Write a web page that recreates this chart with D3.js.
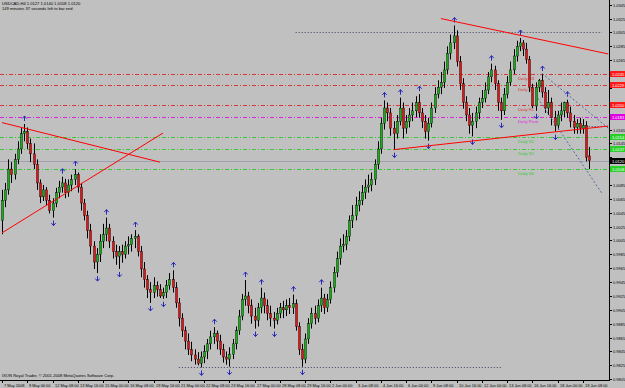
<!DOCTYPE html>
<html><head><meta charset="utf-8">
<script src="https://cdn.jsdelivr.net/npm/d3@7/dist/d3.min.js"></script>
<style>body{margin:0;background:#c0c0c0}svg{display:block}</style></head>
<body><svg id="c" width="625" height="388"></svg>
<script>
// USDCAD H4 candles, bar 0 = 7 May 2008 16:00
const opens=[1.0034,1.0063,1.0078,1.0108,1.0100,1.0122,1.0137,1.0159,1.0162,1.0145,
1.0130,1.0115,1.0088,1.0068,1.0078,1.0063,1.0048,1.0059,1.0074,1.0082,
1.0088,1.0074,1.0085,1.0093,1.0100,1.0082,1.0059,1.0041,1.0019,0.9997,
0.9974,0.9985,1.0004,1.0014,1.0023,1.0004,0.9989,0.9982,0.9989,0.9985,
0.9997,0.9999,1.0008,1.0011,0.9989,0.9964,0.9949,0.9934,0.9930,0.9940,
0.9934,0.9925,0.9930,0.9940,0.9949,0.9937,0.9915,0.9893,0.9875,0.9860,
0.9848,0.9840,0.9834,0.9828,0.9837,0.9845,0.9856,0.9866,0.9871,0.9860,
0.9848,0.9837,0.9834,0.9841,0.9856,0.9875,0.9896,0.9920,0.9925,0.9911,
0.9896,0.9890,0.9908,0.9922,0.9911,0.9900,0.9893,0.9890,0.9900,0.9908,
0.9905,0.9911,0.9908,0.9914,0.9881,0.9848,0.9834,0.9863,0.9885,0.9900,
0.9893,0.9911,0.9922,0.9908,0.9920,0.9937,0.9959,0.9979,0.9997,0.9999,
1.0011,1.0034,1.0041,1.0056,1.0063,1.0074,1.0082,1.0085,1.0093,1.0115,
1.0137,1.0174,1.0196,1.0189,1.0167,1.0159,1.0177,1.0196,1.0167,1.0177,
1.0186,1.0192,1.0204,1.0189,1.0177,1.0162,1.0174,1.0196,1.0216,1.0226,
1.0233,1.0251,1.0275,1.0290,1.0300,1.0263,1.0231,1.0204,1.0186,1.0171,
1.0177,1.0189,1.0204,1.0210,1.0222,1.0241,1.0251,1.0231,1.0204,1.0192,
1.0216,1.0233,1.0251,1.0271,1.0285,1.0290,1.0281,1.0266,1.0226,1.0199,
1.0226,1.0236,1.0219,1.0196,1.0204,1.0182,1.0171,1.0186,1.0192,1.0204,
1.0189,1.0177,1.0168,1.0174,1.0167,1.0171,1.0127];
const highs=[1.0078,1.0088,1.0122,1.0118,1.0130,1.0148,1.0167,1.0173,1.0168,1.0152,
1.0145,1.0122,1.0093,1.0085,1.0082,1.0071,1.0066,1.0081,1.0091,1.0097,
1.0094,1.0093,1.0100,1.0108,1.0103,1.0088,1.0065,1.0048,1.0029,1.0004,
0.9994,1.0014,1.0029,1.0038,1.0029,1.0011,0.9999,0.9997,0.9999,1.0004,
1.0011,1.0014,1.0020,1.0014,0.9997,0.9974,0.9955,0.9945,0.9952,0.9946,
0.9942,0.9937,0.9948,0.9958,0.9962,0.9945,0.9922,0.9900,0.9881,0.9871,
0.9859,0.9848,0.9844,0.9845,0.9854,0.9863,0.9875,0.9880,0.9875,0.9869,
0.9856,0.9845,0.9851,0.9863,0.9881,0.9905,0.9928,0.9948,0.9931,0.9920,
0.9908,0.9915,0.9937,0.9930,0.9920,0.9911,0.9902,0.9908,0.9915,0.9918,
0.9920,0.9922,0.9927,0.9920,0.9887,0.9856,0.9871,0.9893,0.9908,0.9911,
0.9920,0.9937,0.9928,0.9928,0.9946,0.9967,0.9989,1.0008,1.0014,1.0020,
1.0041,1.0056,1.0068,1.0076,1.0085,1.0093,1.0100,1.0103,1.0122,1.0148,
1.0182,1.0207,1.0204,1.0196,1.0177,1.0186,1.0211,1.0204,1.0186,1.0196,
1.0204,1.0213,1.0216,1.0196,1.0186,1.0182,1.0204,1.0226,1.0236,1.0248,
1.0263,1.0285,1.0302,1.0315,1.0308,1.0271,1.0239,1.0213,1.0196,1.0189,
1.0198,1.0211,1.0222,1.0233,1.0248,1.0260,1.0257,1.0236,1.0211,1.0225,
1.0242,1.0263,1.0281,1.0293,1.0297,1.0294,1.0290,1.0271,1.0231,1.0233,
1.0238,1.0245,1.0226,1.0222,1.0211,1.0192,1.0192,1.0204,1.0205,1.0208,
1.0198,1.0186,1.0180,1.0182,1.0180,1.0177,1.0140];
const lows=[1.0014,1.0053,1.0071,1.0088,1.0093,1.0115,1.0130,1.0148,1.0137,1.0118,
1.0108,1.0078,1.0059,1.0062,1.0056,1.0044,1.0038,1.0053,1.0066,1.0074,
1.0066,1.0068,1.0076,1.0085,1.0074,1.0048,1.0034,1.0008,0.9985,0.9964,
0.9958,0.9974,0.9994,1.0004,0.9994,0.9979,0.9970,0.9964,0.9973,0.9979,
0.9985,0.9989,0.9994,0.9982,0.9952,0.9937,0.9922,0.9915,0.9922,0.9924,
0.9922,0.9921,0.9922,0.9934,0.9930,0.9908,0.9881,0.9866,0.9848,0.9840,
0.9831,0.9826,0.9825,0.9822,0.9828,0.9834,0.9848,0.9856,0.9848,0.9840,
0.9829,0.9826,0.9823,0.9834,0.9848,0.9869,0.9890,0.9911,0.9900,0.9885,
0.9878,0.9881,0.9900,0.9900,0.9890,0.9881,0.9878,0.9884,0.9893,0.9893,
0.9896,0.9899,0.9899,0.9875,0.9840,0.9823,0.9828,0.9856,0.9878,0.9884,
0.9887,0.9902,0.9899,0.9902,0.9914,0.9930,0.9952,0.9970,0.9988,0.9991,
1.0004,1.0023,1.0034,1.0047,1.0056,1.0065,1.0074,1.0076,1.0085,1.0108,
1.0130,1.0165,1.0177,1.0156,1.0136,1.0152,1.0171,1.0152,1.0159,1.0168,
1.0177,1.0183,1.0182,1.0167,1.0152,1.0149,1.0168,1.0189,1.0210,1.0216,
1.0225,1.0245,1.0266,1.0281,1.0256,1.0222,1.0195,1.0177,1.0159,1.0155,
1.0167,1.0180,1.0196,1.0204,1.0216,1.0233,1.0222,1.0192,1.0179,1.0186,
1.0210,1.0228,1.0245,1.0263,1.0278,1.0271,1.0260,1.0219,1.0196,1.0192,
1.0219,1.0211,1.0189,1.0186,1.0171,1.0162,1.0165,1.0177,1.0183,1.0182,
1.0168,1.0159,1.0159,1.0159,1.0159,1.0119,1.0108];
const closes=[1.0063,1.0078,1.0108,1.0100,1.0122,1.0137,1.0159,1.0162,1.0145,1.0130,
1.0115,1.0088,1.0068,1.0078,1.0063,1.0048,1.0059,1.0074,1.0082,1.0088,
1.0074,1.0085,1.0093,1.0100,1.0082,1.0059,1.0041,1.0019,0.9997,0.9974,
0.9985,1.0004,1.0014,1.0023,1.0004,0.9989,0.9982,0.9989,0.9985,0.9997,
0.9999,1.0008,1.0011,0.9989,0.9964,0.9949,0.9934,0.9930,0.9940,0.9934,
0.9925,0.9930,0.9940,0.9949,0.9937,0.9915,0.9893,0.9875,0.9860,0.9848,
0.9840,0.9834,0.9828,0.9837,0.9845,0.9856,0.9866,0.9871,0.9860,0.9848,
0.9837,0.9834,0.9841,0.9856,0.9875,0.9896,0.9920,0.9925,0.9911,0.9896,
0.9890,0.9908,0.9922,0.9911,0.9900,0.9893,0.9890,0.9900,0.9908,0.9905,
0.9911,0.9908,0.9914,0.9881,0.9848,0.9834,0.9863,0.9885,0.9900,0.9893,
0.9911,0.9922,0.9908,0.9920,0.9937,0.9959,0.9979,0.9997,0.9999,1.0011,
1.0034,1.0041,1.0056,1.0063,1.0074,1.0082,1.0085,1.0093,1.0115,1.0137,
1.0174,1.0196,1.0189,1.0167,1.0159,1.0177,1.0196,1.0167,1.0177,1.0186,
1.0192,1.0204,1.0189,1.0177,1.0162,1.0174,1.0196,1.0216,1.0226,1.0233,
1.0251,1.0275,1.0290,1.0300,1.0263,1.0231,1.0204,1.0186,1.0171,1.0177,
1.0189,1.0204,1.0210,1.0222,1.0241,1.0251,1.0231,1.0204,1.0192,1.0216,
1.0233,1.0251,1.0271,1.0285,1.0290,1.0281,1.0266,1.0226,1.0199,1.0226,
1.0236,1.0219,1.0196,1.0204,1.0182,1.0171,1.0186,1.0192,1.0204,1.0189,
1.0177,1.0168,1.0174,1.0167,1.0171,1.0125,1.0120];

const timeLabels=["7 May 2008","9 May 00:00","12 May 08:00","13 May 16:00","15 May 00:00","16 May 08:00","19 May 16:00","21 May 00:00","22 May 08:00","23 May 16:00","27 May 00:00","28 May 08:00","29 May 16:00","2 Jun 00:00","3 Jun 08:00","4 Jun 16:00","6 Jun 00:00","9 Jun 08:00","10 Jun 16:00","12 Jun 00:00","13 Jun 08:00","16 Jun 16:00","18 Jun 00:00","19 Jun 08:00"];
const priceTicks=[0.9805,0.9825,0.9845,0.9865,0.9885,0.9905,0.9925,0.9945,0.9965,0.9985,1.0005,1.0025,1.0045,1.0065,1.0085,1.0105,1.0125,1.0145,1.0165,1.0185,1.0205,1.0225,1.0245,1.0265,1.0285,1.0305,1.0325,1.0345];
const levelNames=["Daily R3","Daily R2","Daily R1","Daily Pivot","Daily S1","Daily S2","Daily S3"];
const levelValues=[1.0245,1.0229,1.0200,1.0183,1.0154,1.0137,1.0108];
const levelColors=["#d83838","#d83838","#d83838","#e020e0","#38c838","#38c838","#38c838"];
const tagColors=["#ff1818","#ff1818","#ff1818","#e000e0","#28d028","#28d028","#28d028"];
const lastPrice=1.0120;
const hLineLevels=[1.0306,0.9822,1.0170];
const hLineBars=[[93,190],[56,158],[182,192]];
const trendLines=[[0,1.0175,50,1.0118],[0,1.0016,51,1.0160],[139,1.0325,192,1.0274],[124,1.0136,192,1.0170]];
const dashLines=[[171,1.0246,192,1.0167],[169,1.0215,190,1.0073]];

const W=625,H=388,PR=609,PB=380;
const F="Liberation Sans, Arial, sans-serif";
const svg=d3.select("#c");
svg.append("rect").attr("width",W).attr("height",H).attr("fill","#c0c0c0");
const x=d3.scaleLinear().domain([0,184]).range([2,583]);
const y=d3.scaleLinear().domain([0.9805,1.0345]).range([379.2,4.7]);
svg.append("clipPath").attr("id","clip").append("rect").attr("width",PR).attr("height",PB);
const plot=svg.append("g").attr("clip-path","url(#clip)");
const ry=v=>Math.round(y(v))+0.5;

levelValues.forEach((v,i)=>{
  plot.append("line").attr("x1",0).attr("x2",PR).attr("y1",ry(v)).attr("y2",ry(v))
   .attr("stroke",levelColors[i]).attr("stroke-dasharray","4,2,1,2").attr("stroke-width",1);
  plot.append("text").attr("x",518).attr("y",ry(v)+5.5).attr("font-size",4.3).attr("font-family",F)
   .attr("fill",levelColors[i]).text(levelNames[i]);
});
hLineLevels.forEach((v,i)=>{
  plot.append("line").attr("x1",x(hLineBars[i][0])).attr("x2",x(hLineBars[i][1])).attr("y1",ry(v)).attr("y2",ry(v))
   .attr("stroke","#404060").attr("stroke-dasharray","1,2");
});
plot.append("line").attr("x1",0).attr("x2",PR).attr("y1",ry(lastPrice)).attr("y2",ry(lastPrice)).attr("stroke","#a0a0b0");

const bars=d3.range(closes.length).map(i=>({i,o:opens[i],h:highs[i],l:lows[i],c:closes[i]}));
const cg=plot.append("g");
cg.selectAll("line.w").data(bars).join("line").attr("class","w")
 .attr("x1",d=>Math.round(x(d.i))+0.5).attr("x2",d=>Math.round(x(d.i))+0.5)
 .attr("y1",d=>y(d.h)).attr("y2",d=>y(d.l)).attr("stroke","#000").attr("stroke-width",1);
cg.selectAll("rect.b").data(bars).join("rect").attr("class","b")
 .attr("x",d=>Math.round(x(d.i))-0.5).attr("width",2)
 .attr("y",d=>y(Math.max(d.o,d.c))).attr("height",d=>Math.max(0.8,y(Math.min(d.o,d.c))-y(Math.max(d.o,d.c))))
 .attr("fill",d=>d.c>=d.o?"#10b010":"#e81010").attr("stroke","#000").attr("stroke-width",0.4);

const fr=[];
for(let i=2;i<bars.length-2;i++){
  if([-2,-1,1,2].every(k=>highs[i]>highs[i+k])) fr.push({i,up:true,v:highs[i]});
  if([-2,-1,1,2].every(k=>lows[i]<lows[i+k])) fr.push({i,up:false,v:lows[i]});
}
plot.selectAll("path.fr").data(fr).join("path").attr("class","fr")
 .attr("d",d=>{const xc=Math.round(x(d.i))+0.5;
   if(d.up){const t=y(d.v)-8;return `M${xc},${t}L${xc-2.2},${t+2.5}M${xc},${t}L${xc+2.2},${t+2.5}M${xc},${t}V${t+5}`;}
   const b=y(d.v)+8;return `M${xc},${b}L${xc-2.2},${b-2.5}M${xc},${b}L${xc+2.2},${b-2.5}M${xc},${b}V${b-5}`;})
 .attr("fill","none").attr("stroke","#2828b8").attr("stroke-width",1);

plot.selectAll("line.tl").data(trendLines).join("line").attr("class","tl")
 .attr("x1",t=>x(t[0])).attr("y1",t=>y(t[1])).attr("x2",t=>x(t[2])).attr("y2",t=>y(t[3])).attr("stroke","#ff0000").attr("stroke-width",1);
plot.selectAll("line.dl").data(dashLines).join("line").attr("class","dl")
 .attr("x1",t=>x(t[0])).attr("y1",t=>y(t[1])).attr("x2",t=>x(t[2])).attr("y2",t=>y(t[3])).attr("stroke","#5868a0").attr("stroke-dasharray","2,2");

svg.append("line").attr("x1",PR+0.5).attr("x2",PR+0.5).attr("y1",0).attr("y2",PB).attr("stroke","#000");
svg.append("line").attr("x1",0).attr("x2",PR+1).attr("y1",PB+0.5).attr("y2",PB+0.5).attr("stroke","#000");
const tagVals=levelValues.concat([lastPrice]);
priceTicks.forEach(v=>{
  svg.append("line").attr("x1",PR).attr("x2",PR+3).attr("y1",ry(v)).attr("y2",ry(v)).attr("stroke","#000");
  if(tagVals.some(t=>Math.abs(y(t)-y(v))<3.6)) return;
  svg.append("text").attr("x",PR+4).attr("y",ry(v)+1.6).attr("font-size",4).attr("font-family",F).text(v.toFixed(4));
});
function tag(v,col){const yy=Math.round(y(v));
  svg.append("rect").attr("x",PR+1).attr("y",yy-3).attr("width",15).attr("height",6).attr("fill",col);
  svg.append("text").attr("x",PR+3).attr("y",yy+1.6).attr("font-size",4).attr("font-family",F).attr("fill","#fff").text(v.toFixed(4));}
levelValues.forEach((v,i)=>tag(v,tagColors[i]));
tag(lastPrice,"#000");
timeLabels.forEach((t,k)=>{
  const xx=Math.round(x(k*8))+0.5;
  svg.append("line").attr("x1",xx).attr("x2",xx).attr("y1",PB).attr("y2",PB+3).attr("stroke","#000");
  svg.append("text").attr("x",xx+1.5).attr("y",PB+6.5).attr("font-size",3.9).attr("font-family",F).text(t);
});
svg.append("text").attr("x",2).attr("y",4.5).attr("font-size",4.1).attr("font-family",F).text("USDCAD,H4  1.0127 1.0140 1.0108 1.0120");
svg.append("text").attr("x",2).attr("y",9.5).attr("font-size",4.1).attr("font-family",F).text("149 minutes 37 seconds left to bar end");
svg.append("text").attr("x",2).attr("y",377).attr("font-size",4.1).attr("font-family",F).text("IXON Royal Trader, © 2001-2008 MetaQuotes Software Corp.");
</script></body></html>
